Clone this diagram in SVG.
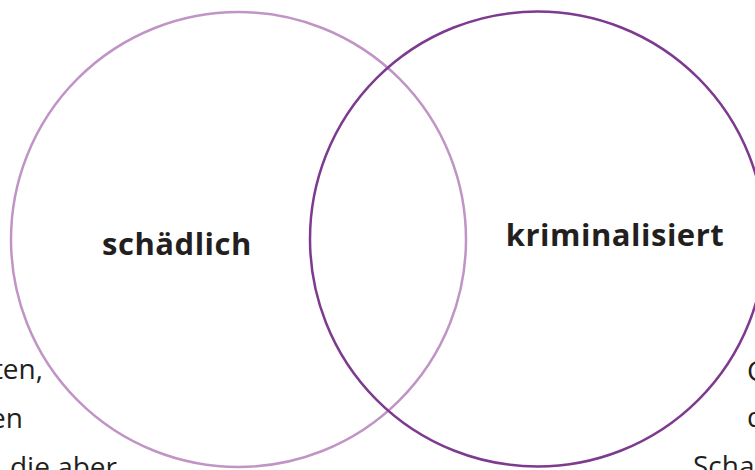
<svg xmlns="http://www.w3.org/2000/svg" width="755" height="470" viewBox="0 0 755 470">
<style>
.lbl{font-family:"Open Sans","Noto Sans",sans-serif;font-weight:700;font-size:31px;letter-spacing:0.5px;fill:#231f20;text-anchor:middle}
.txt{font-family:"Open Sans","Noto Sans",sans-serif;font-size:28px;fill:#231f20}
.c{fill:none;stroke-width:2.5}
</style>
<rect width="755" height="470" fill="#ffffff"/>
<g id="left-text">
<text class="txt" x="43" y="379" text-anchor="end">ten,</text>
<text class="txt" x="23" y="428" text-anchor="end">en</text>
<text class="txt" x="117" y="477" text-anchor="end">die aber</text>
</g>
<g id="right-text">
<text class="txt" x="747" y="381">C</text>
<text class="txt" x="747" y="427">d</text>
<text class="txt" x="693" y="476">Scha</text>
</g>
<g id="schaedlich">
<circle class="c" cx="238.5" cy="239.5" r="227.5" stroke="#c095c6"/>
<text class="lbl" x="177" y="255">schädlich</text>
</g>
<g id="kriminalisiert">
<circle class="c" cx="537.5" cy="239" r="227.5" stroke="#7d3a8e"/>
<text class="lbl" x="615" y="246">kriminalisiert</text>
</g>
<g id="connectors"/>
</svg>
